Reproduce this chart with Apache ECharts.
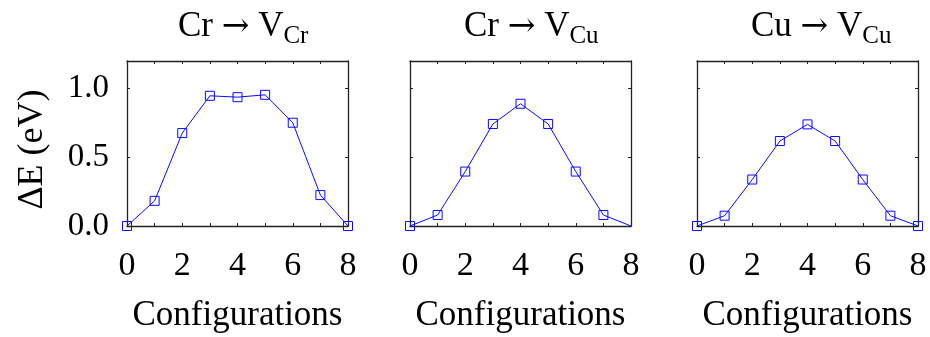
<!DOCTYPE html>
<html><head><meta charset="utf-8">
<script src="https://cdn.jsdelivr.net/npm/echarts@6/dist/echarts.min.js"></script>
<style>html,body{margin:0;padding:0;background:#fff}#c{width:930px;height:337px}</style>
</head><body><div id="c"></div>
<script>
const configurations = [0, 1, 2, 3, 4, 5, 6, 7, 8];
const titlesFrom = ['Cr', 'Cr', 'Cu'];
const titlesTo = ['V', 'V', 'V'];
const titlesSub = ['Cr', 'Cu', 'Cu'];
const crToVCr = [0, 0.183, 0.676, 0.947, 0.937, 0.954, 0.751, 0.225, 0];
const crToVCu = [0, 0.080, 0.396, 0.742, 0.889, 0.742, 0.396, 0.080, 0];
const cuToVCu = [0, 0.075, 0.338, 0.618, 0.739, 0.618, 0.338, 0.075, 0];
const xTickLabels = ['0', '2', '4', '6', '8'];
const yTickLabels = ['0.0', '0.5', '1.0'];
const seriesValues = [crToVCr, crToVCu, cuToVCu];
const hiddenMarkers = [[], [8], []];

const FONT = 'Liberation Serif';
const grids = [
  {left: 127, top: 61, width: 221, height: 165, containLabel: false, outerBoundsMode: 'none'},
  {left: 410, top: 61, width: 221, height: 165, containLabel: false, outerBoundsMode: 'none'},
  {left: 697, top: 61, width: 221, height: 165, containLabel: false, outerBoundsMode: 'none'}
];
const titleLeft = [173, 459, 746];
const lineC = '#222';
const blue = '#0a0aff';
const option = {
  animation: false,
  title: [], grid: grids, xAxis: [], yAxis: [], series: []
};
grids.forEach((g, i) => {
  option.title.push({
    text: '{m|' + titlesFrom[i] + ' }{a|\u2192}{m| ' + titlesTo[i] + '}{s|' + titlesSub[i] + '}',
    left: titleLeft[i], top: 4,
    textStyle: {
      fontWeight: 'normal',
      rich: {
        m: {fontFamily: FONT, fontSize: 35, fontWeight: 'normal', color: '#000', verticalAlign: 'top', padding: [0, 0, 5, 0]},
        a: {fontFamily: 'DejaVu Serif', fontSize: 33, fontWeight: 'normal', color: '#000', verticalAlign: 'top', padding: [2, 0, 3, 0]},
        s: {fontFamily: FONT, fontSize: 25, fontWeight: 'normal', color: '#000', verticalAlign: 'bottom'}
      }
    }
  });
  const axLine = {show: true, onZero: false, lineStyle: {color: lineC, width: 1.3}};
  const tick = {show: true, inside: true, length: 3, lineStyle: {color: lineC, width: 1}};
  option.xAxis.push({
    gridIndex: i, type: 'value', min: 0, max: 8, interval: 1, position: 'bottom',
    name: 'Configurations', nameLocation: 'middle', nameGap: 72,
    nameTextStyle: {fontFamily: FONT, fontSize: 35, color: '#000'},
    axisLine: axLine, axisTick: tick, splitLine: {show: false},
    axisLabel: {fontFamily: FONT, fontSize: 34, color: '#000', margin: 23,
      formatter: v => xTickLabels.includes(String(v)) ? String(v) : ''}
  });
  option.xAxis.push({
    gridIndex: i, type: 'value', min: 0, max: 8, interval: 1, position: 'top',
    axisLine: axLine, axisTick: tick, splitLine: {show: false}, axisLabel: {show: false}
  });
  option.yAxis.push({
    gridIndex: i, type: 'value', min: 0, max: 1.2, interval: 0.5, position: 'left',
    name: i === 0 ? '\u0394E (eV)' : '', nameLocation: 'middle', nameGap: 76,
    nameTextStyle: {fontFamily: FONT, fontSize: 36, color: '#000', padding: [0, 12, 0, 0]},
    axisLine: axLine, axisTick: tick, splitLine: {show: false},
    axisLabel: {show: i === 0, fontFamily: FONT, fontSize: 33, color: '#000', margin: 18,
      formatter: v => { const s = v.toFixed(1); return yTickLabels.includes(s) ? s : ''; }}
  });
  option.yAxis.push({
    gridIndex: i, type: 'value', min: 0, max: 1.2, interval: 0.5, position: 'right',
    axisLine: axLine, axisTick: tick, splitLine: {show: false}, axisLabel: {show: false}
  });
  option.series.push({
    type: 'line', xAxisIndex: 2 * i, yAxisIndex: 2 * i,
    data: configurations.map((c, k) => hiddenMarkers[i].includes(c)
      ? {value: [c, seriesValues[i][k]], symbol: 'none'}
      : [c, seriesValues[i][k]]),
    symbol: 'rect', symbolSize: 9, showSymbol: true, clip: false,
    lineStyle: {color: blue, width: 1},
    itemStyle: {color: 'rgba(0,0,0,0)', borderColor: blue, borderWidth: 1}
  });
});
const chart = echarts.init(document.getElementById('c'), null, {renderer: 'canvas'});
chart.setOption(option);
</script>
</body></html>
